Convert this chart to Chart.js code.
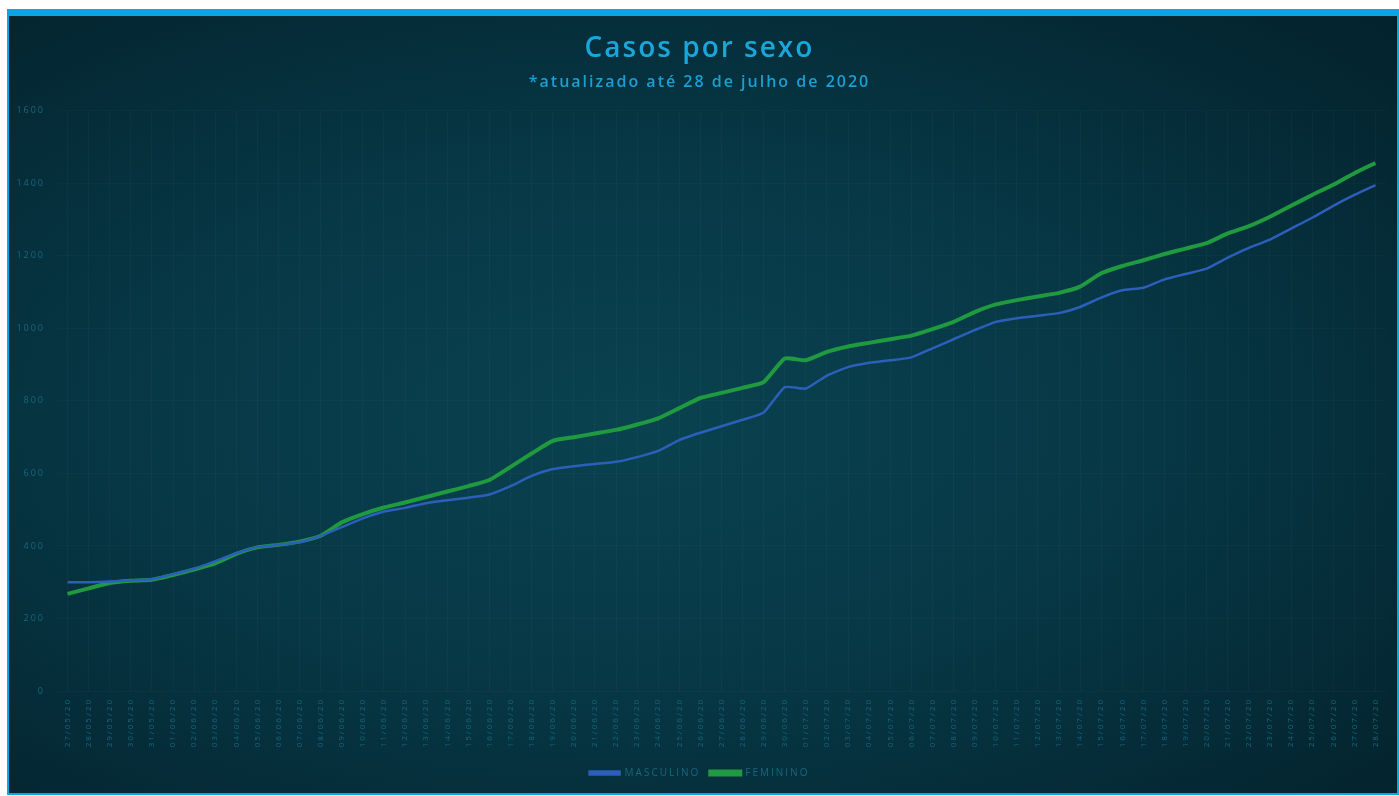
<!DOCTYPE html>
<html lang="pt-BR">
<head>
  <meta charset="UTF-8">
  <title>Casos por sexo</title>
  <script src="https://cdn.jsdelivr.net/npm/chart.js"></script>
  <style>
    body {
      margin: 0;
      background: #fff;
      font-family: "Open Sans", sans-serif;
    }
    #painel {
      position: absolute;
      left: 7px;
      top: 9px;
      width: 1392px;
      height: 786px;
      box-sizing: border-box;
      border: 2px solid #08a6e2;
      border-top-width: 7px;
      background: radial-gradient(ellipse at 45% 52%, #0a4250 0%, #073846 45%, #03222c 100%);
    }
    #graficoContainer {
      position: relative;
      width: 1388px;
      height: 777px;
    }
  </style>
</head>
<body>

  <div id="painel">
    <div id="graficoContainer">
      <canvas id="graficoSexo"></canvas>
    </div>
  </div>

  <script>
    // datas do boletim (27/05 a 28/07)
    const datas = [
      '27/05/20', '28/05/20', '29/05/20', '30/05/20', '31/05/20',
      '01/06/20', '02/06/20', '03/06/20', '04/06/20', '05/06/20', '06/06/20', '07/06/20', '08/06/20', '09/06/20', '10/06/20',
      '11/06/20', '12/06/20', '13/06/20', '14/06/20', '15/06/20', '16/06/20', '17/06/20', '18/06/20', '19/06/20', '20/06/20',
      '21/06/20', '22/06/20', '23/06/20', '24/06/20', '25/06/20', '26/06/20', '27/06/20', '28/06/20', '29/06/20', '30/06/20',
      '01/07/20', '02/07/20', '03/07/20', '04/07/20', '05/07/20', '06/07/20', '07/07/20', '08/07/20', '09/07/20', '10/07/20',
      '11/07/20', '12/07/20', '13/07/20', '14/07/20', '15/07/20', '16/07/20', '17/07/20', '18/07/20', '19/07/20', '20/07/20',
      '21/07/20', '22/07/20', '23/07/20', '24/07/20', '25/07/20', '26/07/20', '27/07/20', '28/07/20'
    ];

    const masculino = [
      300, 300, 302, 305, 308,
      322, 337, 358, 380, 397, 403, 410, 428, 452, 476,
      495, 505, 518, 526, 533, 542, 565, 593, 612, 620,
      626, 632, 645, 662, 692, 712, 730, 748, 768, 838,
      834, 870, 893, 905, 912, 920, 945, 970, 995, 1018,
      1028, 1035, 1042, 1059, 1085, 1105, 1112, 1135, 1150, 1165,
      1195, 1222, 1245, 1275, 1305, 1338, 1368, 1395
    ];

    const feminino = [
      268, 283, 298, 304, 307,
      320, 335, 352, 378, 396, 403, 412, 428, 465, 488,
      506, 520, 535, 550, 565, 582, 618, 655, 690, 700,
      710, 720, 735, 752, 780, 808, 822, 836, 852, 917,
      912, 935, 950, 960, 970, 980, 998, 1018, 1045, 1066,
      1078, 1088, 1098, 1115, 1152, 1172, 1188, 1205, 1220, 1235,
      1262, 1282, 1308, 1338, 1368, 1396, 1428, 1456
    ];

    const marcasY = [0, 200, 400, 600, 800, 1000, 1200, 1400, 1600];

    const corTexto = '#17687f';
    const corAzul = '#2b5fba';
    const corVerde = '#1f9a3e';

    // textos mais espaçados, como no painel original
    const espacamento = {
      id: 'espacamento',
      beforeUpdate(chart) { chart.ctx.letterSpacing = '2px'; },
      beforeLayout(chart) { chart.ctx.letterSpacing = '2px'; },
      beforeDraw(chart) { chart.ctx.letterSpacing = '2px'; }
    };

    const ctx = document.getElementById('graficoSexo').getContext('2d');
    const chart = new Chart(ctx, {
      type: 'line',
      data: {
        labels: datas,
        datasets: [
          {
            label: 'MASCULINO',
            data: masculino,
            borderColor: corAzul,
            backgroundColor: corAzul,
            borderWidth: 2.5,
            pointRadius: 0,
            tension: 0.15
          },
          {
            label: 'FEMININO',
            data: feminino,
            borderColor: corVerde,
            backgroundColor: corVerde,
            borderWidth: 4,
            pointRadius: 0,
            tension: 0.15
          }
        ]
      },
      plugins: [espacamento],
      options: {
        responsive: true,
        maintainAspectRatio: false,
        animation: false,
        layout: { padding: { left: 4, right: 11, top: 0, bottom: 5 } },
        plugins: {
          title: {
            display: true,
            text: 'Casos por sexo',
            color: '#1ba6da',
            font: { family: 'Open Sans', size: 28, weight: '600' },
            padding: { top: 16, bottom: 7 }
          },
          subtitle: {
            display: true,
            text: '*atualizado até 28 de julho de 2020',
            color: '#1a9fd2',
            font: { family: 'Open Sans', size: 16, weight: '600' },
            padding: { top: 0, bottom: 19 }
          },
          legend: {
            position: 'bottom',
            labels: {
              color: corTexto,
              boxWidth: 30,
              boxHeight: 3,
              padding: 10,
              font: { family: 'Open Sans', size: 10 }
            }
          },
          tooltip: { enabled: false }
        },
        scales: {
          x: {
            offset: true,
            grid: {
              color: 'rgba(255,255,255,0.028)',
              drawTicks: false,
              offset: false
            },
            border: { display: false },
            ticks: {
              color: corTexto,
              font: { family: 'Open Sans', size: 8 },
              autoSkip: false,
              minRotation: 90,
              maxRotation: 90,
              padding: 7
            },
            afterFit: s => { s.height = 67; }
          },
          y: {
            min: 0,
            max: 1600,
            afterBuildTicks: s => { s.ticks = marcasY.map(v => ({ value: v })); },
            grid: {
              color: 'rgba(255,255,255,0.025)',
              drawTicks: false
            },
            border: { display: false },
            ticks: {
              color: corTexto,
              font: { family: 'Open Sans', size: 9 },
              padding: 12,
              callback: v => String(v)
            },
            afterFit: s => { s.width = 44; }
          }
        }
      }
    });
  </script>
</body>
</html>
